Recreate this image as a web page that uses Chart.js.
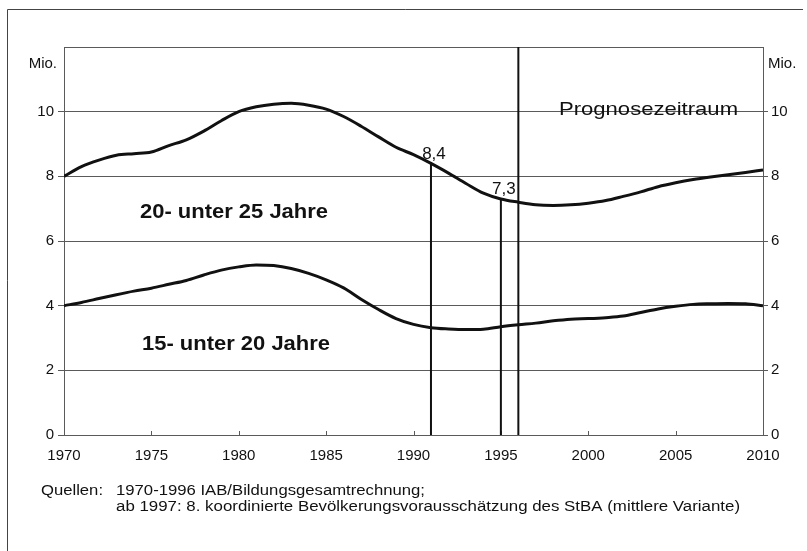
<!DOCTYPE html>
<html lang="de">
<head>
<meta charset="utf-8">
<title>Bevölkerung 15-25 Jahre</title>
<script src="https://cdn.jsdelivr.net/npm/chart.js@4/dist/chart.umd.min.js"></script>
<style>
  html, body { margin: 0; padding: 0; background: #fff; }
  #wrap { width: 807px; height: 551px; position: relative; }
</style>
</head>
<body>
<div id="wrap"><canvas id="chart"></canvas></div>
<script>
// ── DATA ──
const years = [1970,1971,1972,1973,1974,1975,1976,1977,1978,1979,1980,1981,1982,1983,1984,1985,1986,1987,1988,1989,
               1990,1991,1992,1993,1994,1995,1996,1997,1998,1999,2000,2001,2002,2003,2004,2005,2006,2007,2008,2009,2010];
const age20to25 = [8.0,8.3,8.5,8.65,8.7,8.75,8.95,9.13,9.4,9.72,10.0,10.15,10.23,10.26,10.2,10.08,9.85,9.55,9.22,8.9,
                   8.67,8.4,8.1,7.78,7.48,7.3,7.2,7.12,7.1,7.12,7.17,7.25,7.38,7.52,7.68,7.8,7.9,7.98,8.05,8.12,8.2];
const age15to20 = [4.0,4.1,4.22,4.34,4.45,4.54,4.66,4.78,4.95,5.1,5.2,5.26,5.24,5.15,5.0,4.8,4.55,4.2,3.88,3.6,
                   3.42,3.32,3.28,3.26,3.27,3.35,3.41,3.46,3.53,3.58,3.6,3.63,3.68,3.79,3.9,3.98,4.04,4.06,4.07,4.06,4.0];
const markerYears = [1991, 1995];
const prognosisStart = 1996;
const seriesLabels = ['20- unter 25 Jahre', '15- unter 20 Jahre'];
const sourceLines = ['1970-1996 IAB/Bildungsgesamtrechnung;',
                     'ab 1997: 8. koordinierte Bevölkerungsvorausschätzung des StBA (mittlere Variante)'];

const FONT = '"Liberation Sans", Arial, sans-serif';
const INK = '#111';
const GRID = '#5a5a5a';

Chart.defaults.font.family = FONT;
Chart.defaults.color = INK;

const toPoints = arr => arr.map((v, i) => ({ x: years[i], y: v }));

// draw text squeezed/stretched horizontally to a given width (the scan is wider than tall)
function stretchText(ctx, text, x, y, width) {
    const w = ctx.measureText(text).width;
    ctx.save();
    ctx.translate(x, y);
    ctx.scale(width / w, 1);
    ctx.fillText(text, 0, 0);
    ctx.restore();
}

// ── ANNOTATIONS (lines, labels, frame, footer) ──
const annotations = {
    id: 'annotations',
    afterDraw(chart) {
        const { ctx, chartArea: a, scales: { x, y } } = chart;
        ctx.save();

        // outer frame (top + left only, as scanned)
        ctx.strokeStyle = '#444'; ctx.lineWidth = 1;
        ctx.beginPath(); ctx.moveTo(7.5, 551); ctx.lineTo(7.5, 9.5); ctx.lineTo(803, 9.5); ctx.stroke();

        // inward x ticks
        ctx.strokeStyle = GRID;
        for (let yr = 1975; yr < 2010; yr += 5) {
            const px = Math.round(x.getPixelForValue(yr)) + 0.5;
            ctx.beginPath(); ctx.moveTo(px, a.bottom); ctx.lineTo(px, a.bottom - 4); ctx.stroke();
        }

        // prognosis boundary
        ctx.strokeStyle = INK; ctx.lineWidth = 2;
        const pb = x.getPixelForValue(prognosisStart);
        ctx.beginPath(); ctx.moveTo(pb, a.top); ctx.lineTo(pb, a.bottom); ctx.stroke();

        // marker drop lines + values
        ctx.fillStyle = INK;
        ctx.font = `17px ${FONT}`;
        ctx.textAlign = 'center'; ctx.textBaseline = 'bottom';
        markerYears.forEach(yr => {
            const v = age20to25[years.indexOf(yr)];
            const px = x.getPixelForValue(yr), py = y.getPixelForValue(v);
            ctx.beginPath(); ctx.moveTo(px, py); ctx.lineTo(px, a.bottom); ctx.stroke();
            ctx.fillText(v.toFixed(1).replace('.', ','), px + 3, py - 1);
        });

        // Prognosezeitraum
        ctx.textAlign = 'left'; ctx.textBaseline = 'middle';
        ctx.font = `19px ${FONT}`;
        stretchText(ctx, 'Prognosezeitraum', 559, y.getPixelForValue(10.05), 179);

        // series names
        ctx.font = `bold 20px ${FONT}`;
        stretchText(ctx, seriesLabels[0], 140, y.getPixelForValue(6.87), 188);
        stretchText(ctx, seriesLabels[1], 142, y.getPixelForValue(2.79), 188);

        // unit labels
        ctx.font = `15px ${FONT}`;
        ctx.textAlign = 'right';
        ctx.fillText('Mio.', a.left - 7, 64);
        ctx.textAlign = 'left';
        ctx.fillText('Mio.', a.right + 5, 64);

        // sources
        ctx.font = `14px ${FONT}`;
        stretchText(ctx, 'Quellen:', 41, 491, 62);
        stretchText(ctx, sourceLines[0], 116, 491, 309);
        stretchText(ctx, sourceLines[1], 116, 507, 624);

        ctx.restore();
    }
};

const yTicks = {
    stepSize: 2,
    callback: v => (v === 12 ? '' : v),
    font: { size: 15 }
};
const tickColor = c => (c.tick && c.tick.value === 12 ? 'rgba(0,0,0,0)' : GRID);

new Chart(document.getElementById('chart'), {
    type: 'line',
    data: {
        datasets: [
            { label: seriesLabels[0], data: toPoints(age20to25), borderColor: INK, borderWidth: 3, pointRadius: 0, cubicInterpolationMode: 'monotone' },
            { label: seriesLabels[1], data: toPoints(age15to20), borderColor: INK, borderWidth: 3, pointRadius: 0, cubicInterpolationMode: 'monotone' }
        ]
    },
    options: {
        responsive: true, maintainAspectRatio: false, animation: false,
        layout: { padding: { top: 47, left: 0, right: 0, bottom: 0 } },
        plugins: { legend: { display: false }, tooltip: { enabled: false } },
        scales: {
            x: {
                type: 'linear', min: 1970, max: 2010,
                afterFit: s => { s.height = 116; },
                grid: { display: false, drawTicks: false },
                border: { display: true, color: GRID, width: 1 },
                ticks: { stepSize: 5, padding: 12, font: { size: 15 }, callback: v => String(v), maxRotation: 0 }
            },
            y: {
                position: 'left', min: 0, max: 12,
                afterFit: s => { s.width = 64; },
                grid: { color: GRID, lineWidth: 1, tickLength: 6, tickColor },
                border: { display: true, color: GRID, width: 1 },
                ticks: { ...yTicks, padding: 4 }
            },
            y2: {
                position: 'right', min: 0, max: 12,
                afterFit: s => { s.width = 44; },
                grid: { drawOnChartArea: false, color: GRID, lineWidth: 1, tickLength: 5, tickColor },
                border: { display: true, color: GRID, width: 1 },
                ticks: { ...yTicks, padding: 3 }
            }
        }
    },
    plugins: [annotations]
});
</script>
</body>
</html>
